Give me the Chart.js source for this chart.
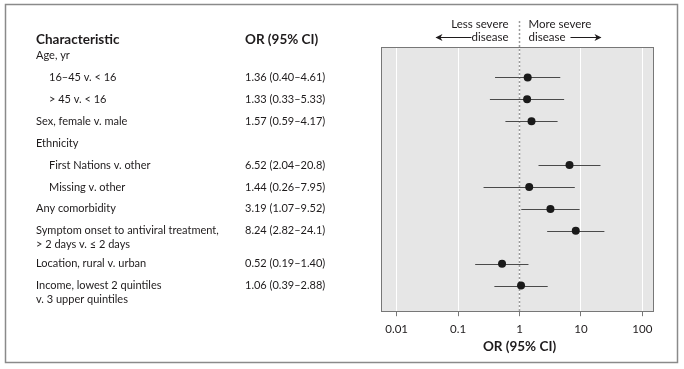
<!DOCTYPE html>
<html><head><meta charset="utf-8">
<script src="https://cdn.jsdelivr.net/npm/chart.js@4/dist/chart.umd.min.js"></script>
<style>html,body{margin:0;padding:0;background:#fff;}#wrap{width:684px;height:369px;position:relative;}canvas{display:block;}</style>
</head><body><div id="wrap"><canvas id="c" width="684" height="369"></canvas></div>
<script>
// ---- data ----
const categories = ["16–45 v. < 16", "> 45 v. < 16", "Sex, female v. male", "First Nations v. other", "Missing v. other", "Any comorbidity", "Symptom onset to antiviral treatment,|> 2 days v. ≤ 2 days", "Location, rural v. urban", "Income, lowest 2 quintiles|v. 3 upper quintiles"];
const rowIndex = [2, 3, 4, 6, 7, 8, 9, 10.5, 11.5];
const indented = [true, true, false, true, true, false, false, false, false];
const groupHeaders = ["Age, yr", "Ethnicity"];
const groupRows = [1, 5];
const orValues = [1.36, 1.33, 1.57, 6.52, 1.44, 3.19, 8.24, 0.52, 1.06];
const lowerCI = [0.40, 0.33, 0.59, 2.04, 0.26, 1.07, 2.82, 0.19, 0.39];
const upperCI = [4.61, 5.33, 4.17, 20.8, 7.95, 9.52, 24.1, 1.40, 2.88];
const ciLabels = ["1.36 (0.40–4.61)", "1.33 (0.33–5.33)", "1.57 (0.59–4.17)", "6.52 (2.04–20.8)", "1.44 (0.26–7.95)", "3.19 (1.07–9.52)", "8.24 (2.82–24.1)", "0.52 (0.19–1.40)", "1.06 (0.39–2.88)"];
const xTicks = [0.01, 0.1, 1, 10, 100];
const refValue = 1;

const FONT = "Lato, 'Open Sans', sans-serif";
const TXT = '#1e1b1c';

const forestPlugin = {
  id: 'forest',
  beforeDraw(chart) {
    const {ctx, chartArea: a} = chart;
    ctx.save();
    ctx.fillStyle = '#fff';
    ctx.fillRect(0, 0, chart.width, chart.height);
    ctx.strokeStyle = '#8a8a8a';
    ctx.lineWidth = 1.5;
    ctx.strokeRect(5.5, 4.5, 672, 358);
    ctx.fillStyle = '#e6e6e6';
    ctx.fillRect(a.left, a.top, a.right - a.left, a.bottom - a.top);
    ctx.restore();
  },
  beforeDatasetsDraw(chart) {
    const {ctx, chartArea: a, scales: {x, y}} = chart;
    ctx.save();
    const rx = Math.round(x.getPixelForValue(refValue)) + 0.5;
    ctx.strokeStyle = '#9a9a9a';
    ctx.lineWidth = 1.5;
    ctx.setLineDash([2, 2]);
    ctx.beginPath();
    ctx.moveTo(rx, 21);
    ctx.lineTo(rx, a.bottom);
    ctx.stroke();
    ctx.setLineDash([]);
    ctx.strokeStyle = '#4a4a4a';
    ctx.lineWidth = 1.1;
    orValues.forEach((v, i) => {
      const py = Math.round(y.getPixelForValue(rowIndex[i])) + 0.5;
      ctx.beginPath();
      ctx.moveTo(x.getPixelForValue(lowerCI[i]), py);
      ctx.lineTo(x.getPixelForValue(upperCI[i]), py);
      ctx.stroke();
    });
    ctx.restore();
  },
  afterDraw(chart) {
    const {ctx, chartArea: a, scales: {x, y}} = chart;
    ctx.save();
    ctx.strokeStyle = '#777';
    ctx.lineWidth = 1;
    ctx.strokeRect(Math.round(a.left) + 0.5, Math.round(a.top) + 0.5, Math.round(a.right - a.left), Math.round(a.bottom - a.top));
    ctx.fillStyle = TXT;
    ctx.textBaseline = 'middle';
    ctx.textAlign = 'left';
    const colA = 36, colIndent = 49, colB = 245;
    const headY = y.getPixelForValue(0.29);
    ctx.font = 'bold 13.5px ' + FONT;
    ctx.fillText('Characteristic', colA, headY);
    ctx.fillText('OR (95% CI)', colB, headY);
    ctx.font = '11px ' + FONT;
    groupHeaders.forEach((g, i) => ctx.fillText(g, colA, y.getPixelForValue(groupRows[i])));
    categories.forEach((c, i) => {
      const py = y.getPixelForValue(rowIndex[i]);
      const lines = c.split('|');
      lines.forEach((ln, k) => ctx.fillText(ln, indented[i] ? colIndent : colA, py + k * 14));
      ctx.fillText(ciLabels[i], colB, py);
    });
    const rx = x.getPixelForValue(refValue);
    ctx.font = '11.5px ' + FONT;
    ctx.textAlign = 'right';
    ctx.fillText('Less severe', rx - 11, 24);
    ctx.fillText('disease', rx - 11, 37);
    ctx.textAlign = 'left';
    ctx.fillText('More severe', rx + 9, 24);
    ctx.fillText('disease', rx + 9, 37);
    ctx.strokeStyle = TXT;
    ctx.fillStyle = TXT;
    ctx.lineWidth = 1;
    const ay = 37.5;
    ctx.beginPath(); ctx.moveTo(rx - 83, ay); ctx.lineTo(rx - 48, ay); ctx.stroke();
    ctx.beginPath(); ctx.moveTo(rx - 84, ay); ctx.lineTo(rx - 77, ay - 3.5); ctx.lineTo(rx - 79, ay); ctx.lineTo(rx - 77, ay + 3.5); ctx.closePath(); ctx.fill();
    ctx.beginPath(); ctx.moveTo(rx + 51, ay); ctx.lineTo(rx + 81, ay); ctx.stroke();
    ctx.beginPath(); ctx.moveTo(rx + 82, ay); ctx.lineTo(rx + 75, ay - 3.5); ctx.lineTo(rx + 77, ay); ctx.lineTo(rx + 75, ay + 3.5); ctx.closePath(); ctx.fill();
    ctx.font = 'bold 13.5px ' + FONT;
    ctx.textAlign = 'center';
    ctx.fillText('OR (95% CI)', rx, 347);
    ctx.restore();
  }
};

new Chart(document.getElementById('c'), {
  type: 'scatter',
  data: {
    datasets: [{
      data: orValues.map((v, i) => ({x: v, y: rowIndex[i]})),
      pointRadius: 4,
      pointHoverRadius: 4,
      backgroundColor: '#1a1a1a',
      borderWidth: 0
    }]
  },
  options: {
    responsive: false,
    animation: false,
    devicePixelRatio: 1,
    layout: {padding: {left: 381, right: 31, top: 47, bottom: 27}},
    plugins: {legend: {display: false}, tooltip: {enabled: false}},
    scales: {
      x: {
        type: 'logarithmic',
        min: 0.00557,
        max: 149,
        afterBuildTicks: s => { s.ticks = xTicks.map(v => ({value: v})); },
        ticks: {
          callback: v => String(v),
          font: {family: FONT, size: 11.5},
          color: TXT,
          padding: 6,
          maxRotation: 0,
          autoSkip: false
        },
        grid: {color: '#fff', lineWidth: 1, tickColor: '#777', tickLength: 5, drawOnChartArea: true},
        border: {display: false}
      },
      y: {type: 'linear', reverse: true, min: 0.612, max: 12.667, display: false}
    }
  },
  plugins: [forestPlugin]
});
</script>
</body></html>
